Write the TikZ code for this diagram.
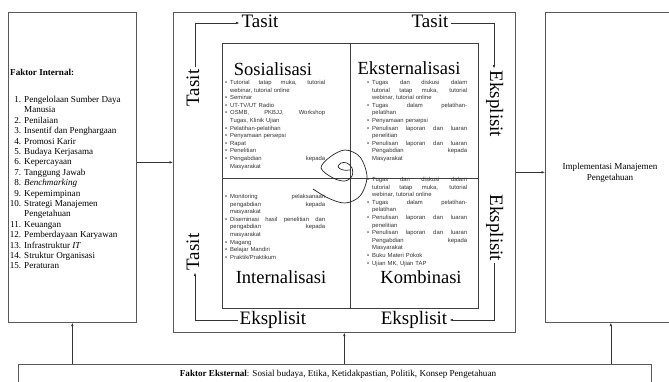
\documentclass[tikz,border=0pt]{standalone}
\usepackage{fontspec}
\setmainfont{Liberation Serif}
\newfontfamily\arialf{Liberation Sans}
\usetikzlibrary{arrows.meta}
\newcommand\bu{\makebox[5pt][l]{\textbullet}}
\newcommand\jst[1]{\makebox[95pt][s]{\spaceskip=.28em plus 1fil\relax #1}}
\newcommand\ja[1]{\bu\jst{#1}\\}
\newcommand\jb[1]{\hspace*{5pt}\jst{#1}\\}
\newcommand\la[1]{\bu #1\\}
\newcommand\lb[1]{\hspace*{5pt}#1\\}
\newcommand\nit[2]{\makebox[13pt][r]{#1}\hspace{3pt}#2\\}
\newcommand\nic[1]{\hspace*{16pt}#1\\}
\newcommand\lstfont{\arialf\fontsize{5.9}{7.6}\selectfont}
\tikzset{
 box/.style={draw=black!65, line width=0.7pt, inner sep=0, anchor=north west},
 arr/.style={draw=black!80, line width=0.6pt, -{Latex[length=3.5pt,width=2.6pt]}},
 lnk/.style={draw=black!55, line width=0.6pt},
 big/.style={font=\fontsize{19}{19}\selectfont, inner sep=2pt, text height=11pt, text depth=3pt},
 qt/.style={font=\fontsize{18.5}{18.5}\selectfont, anchor=base, inner sep=0},
 lst/.style={font=\lstfont, text=black!80, anchor=north west, inner sep=0, text width=100pt, align=left},
 sml/.style={font=\fontsize{9.1}{10.4}\selectfont, inner sep=0},
}
\begin{document}
\begin{tikzpicture}[x=1pt,y=-1pt]
\useasboundingbox (0,0) rectangle (669,381);
\fill[white] (0,0) rectangle (669,381);
% main boxes
\node[box, minimum width=128pt, minimum height=310pt] (internal) at (8,12) {};
\node[box, minimum width=342pt, minimum height=320pt] (outer) at (173,12) {};
\node[box, minimum width=135pt, minimum height=310pt] (impl) at (545,12) {};
\node[box, minimum width=633pt, minimum height=40pt] (external) at (18,364) {};
\node[box, draw=black!75, minimum width=256pt, minimum height=265pt] (quad) at (222,43) {};
\draw[draw=black!75, line width=0.6pt] (quad.north) -- (quad.south);
\draw[draw=black!75, line width=0.6pt] ([yshift=-2pt]quad.west) -- ([yshift=-2pt]quad.east);
% left box text
\node[sml, anchor=west] (fi) at (10,72) {\textbf{Faktor Internal:}};
\node[sml, anchor=north west, align=left] (filist) at (8,96) {%
\nit{1.}{Pengelolaan Sumber Daya}
\nic{Manusia}
\nit{2.}{Penilaian}
\nit{3.}{Insentif dan Penghargaan}
\nit{4.}{Promosi Karir}
\nit{5.}{Budaya Kerjasama}
\nit{6.}{Kepercayaan}
\nit{7.}{Tanggung Jawab}
\nit{8.}{\textit{Benchmarking}}
\nit{9.}{Kepemimpinan}
\nit{10.}{Strategi Manajemen}
\nic{Pengetahuan}
\nit{11.}{Keuangan}
\nit{12.}{Pemberdayaan Karyawan}
\nit{13.}{Infrastruktur \textit{IT}}
\nit{14.}{Struktur Organisasi}
\nit{15.}{Peraturan}};
% right box text
\node[sml, align=center] (impltext) at (610,173) {Implementasi Manajemen\\Pengetahuan};
% external text
\node[sml] (exttext) at (338,374) {\textbf{Faktor Eksternal}: Sosial budaya, Etika, Ketidakpastian, Politik, Konsep Pengetahuan};
% connecting arrows between boxes
\draw[arr] ([yshift=5pt]internal.east) -- ([yshift=5pt]internal.east -| outer.west);
\draw[arr] (outer.east) -- (outer.east -| impl.west);
\draw[arr] (external.north -| internal.south) -- (internal.south);
\draw[arr] (external.north -| outer.south) -- (outer.south);
\draw[arr] ([xshift=-2pt]external.north -| impl.south) -- ([xshift=-2pt]impl.south);
% quadrant titles
\node[qt] (sos) at (273,75) {Sosialisasi};
\node[qt] (eks) at (409,74) {Eksternalisasi};
\node[qt] (int) at (281,283) {Internalisasi};
\node[qt] (kom) at (421,283) {Kombinasi};
% lists
\node[lst] (soslist) at (225,80) {%
\ja{Tutorial tatap muka, tutorial}
\lb{webinar, tutorial online}
\la{Seminar}
\la{UT-TV/UT Radio}
\ja{OSMB, PKBJJ, Workshop}
\lb{Tugas, Klinik Ujian}
\la{Pelatihan-pelatihan}
\la{Penyamaan persepsi}
\la{Rapat}
\la{Penelitian}
\ja{Pengabdian kepada}
\lb{Masyarakat}};
\node[lst] (ekslist) at (367,80) {%
\ja{Tugas dan diskusi dalam}
\jb{tutorial tatap muka, tutorial}
\lb{webinar, tutorial online}
\ja{Tugas dalam pelatihan-}
\lb{pelatihan}
\la{Penyamaan persepsi}
\ja{Penulisan laporan dan luaran}
\lb{penelitian}
\ja{Penulisan laporan dan luaran}
\jb{Pengabdian kepada}
\lb{Masyarakat}};
\node[lst] (intlist) at (225,194) {%
\ja{Monitoring pelaksanaan}
\jb{pengabdian kepada}
\lb{masyarakat}
\ja{Diseminasi hasil penelitian dan}
\jb{pengabdian kepada}
\lb{masyarakat}
\la{Magang}
\la{Belajar Mandiri}
\la{Praktik/Praktikum}};
\node[lst] (komlist) at (367,177) {%
\ja{Tugas dan diskusi dalam}
\jb{tutorial tatap muka, tutorial}
\lb{webinar, tutorial online}
\ja{Tugas dalam pelatihan-}
\lb{pelatihan}
\ja{Penulisan laporan dan luaran}
\lb{penelitian}
\ja{Penulisan laporan dan luaran}
\jb{Pengabdian kepada}
\lb{Masyarakat}
\la{Buku Materi Pokok}
\la{Ujian MK, Ujian TAP}};
% Tasit / Eksplisit labels
\node[big, rotate=90] (t1) at (195,88) {Tasit};
\node[big] (t2) at (260,23) {Tasit};
\node[big] (t3) at (430,23) {Tasit};
\node[big, rotate=-90] (e1) at (494,104) {Eksplisit};
\node[big, rotate=-90] (e2) at (494,228) {Eksplisit};
\node[big] (e3) at (414,320) {Eksplisit};
\node[big] (e4) at (273,320) {Eksplisit};
\node[big, rotate=90] (t4) at (195,252) {Tasit};
\draw[lnk, arr] (t1.east) |- (t2.west);
\draw[lnk, arr] (t3.east) -| (e1.west);
\draw[lnk, arr] (e2.east) |- (e3.east);
\draw[lnk, arr] (e4.west) -| (t4.west);
% hand-drawn scribble
\draw[black!85, line width=0.7pt] plot[smooth, tension=0.55] coordinates {(350,170) (343,170) (338,167) (341,163) (347,163) (352,168) (352,176) (345,181) (333,178) (321,168) (330,157) (345,150) (360,157) (367,177) (360,196) (345,203) (328,198) (313,189)};
\end{tikzpicture}
\end{document}
